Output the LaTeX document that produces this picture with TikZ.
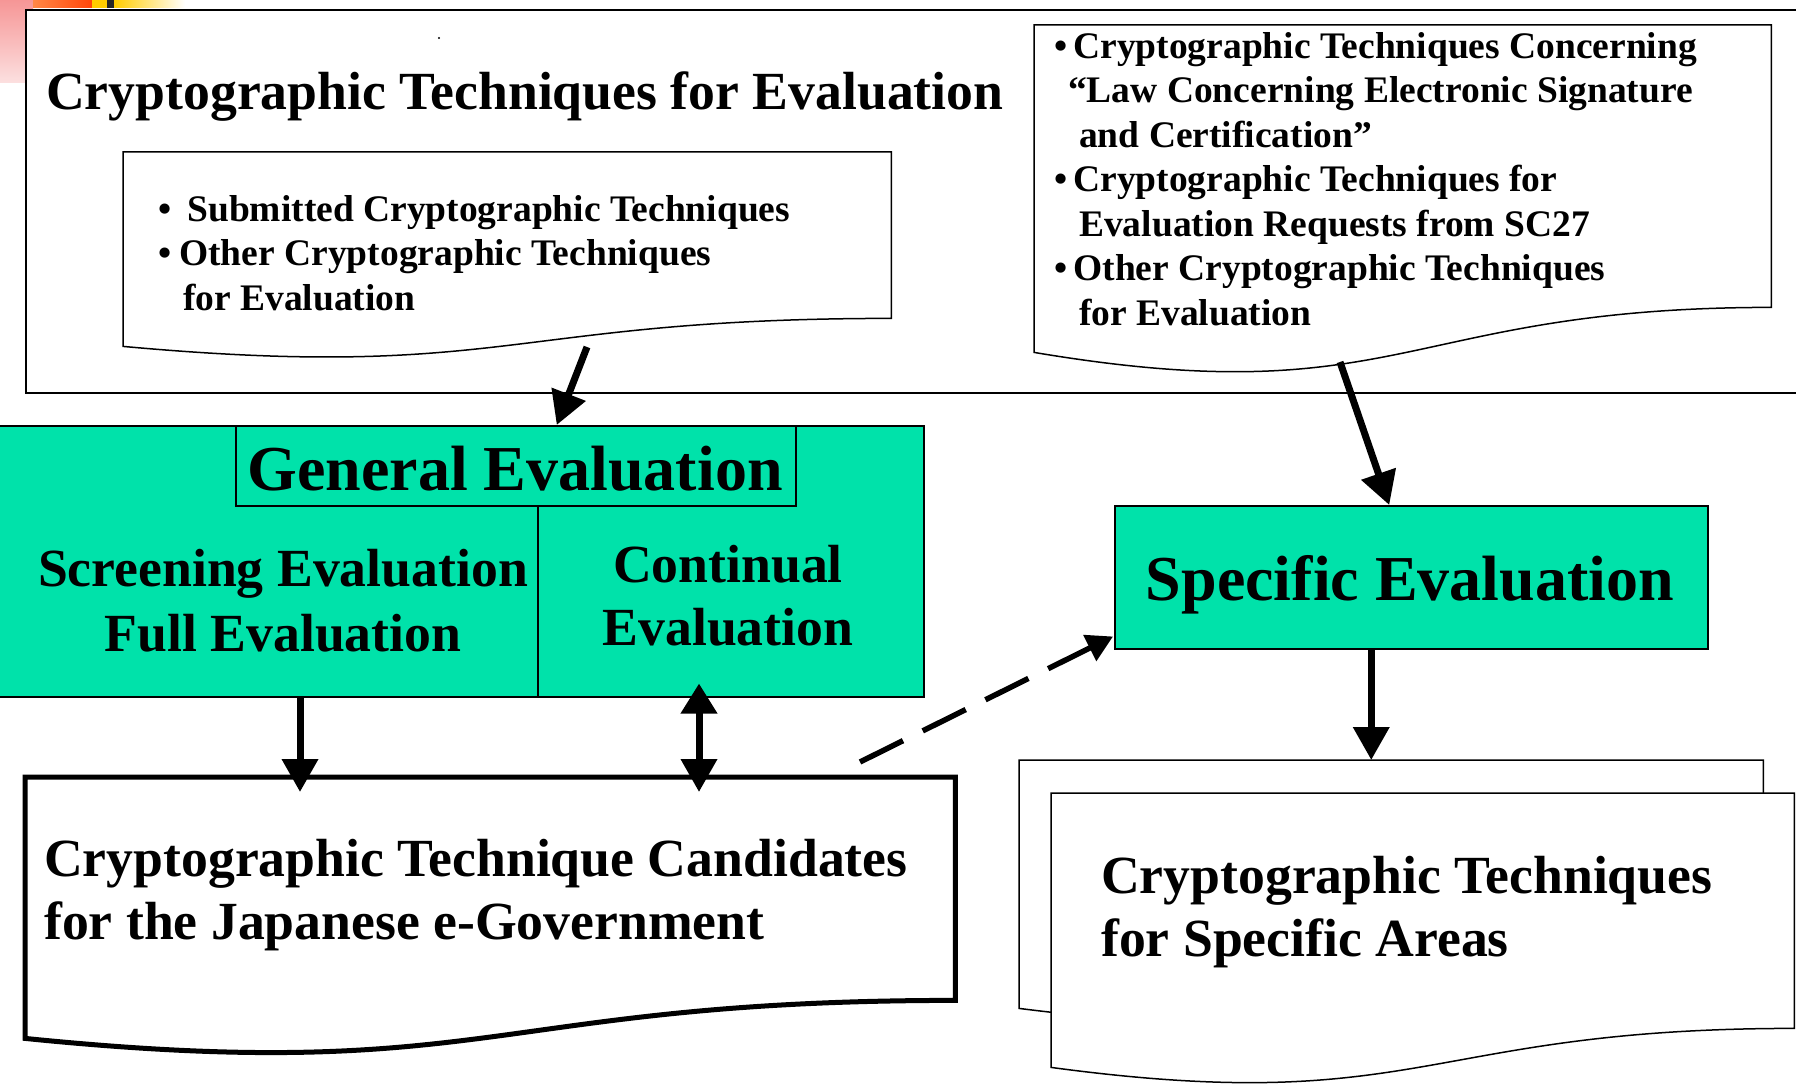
\documentclass[tikz,border=0pt]{standalone}
\usepackage{fontspec}
\setmainfont{Liberation Serif}
\usepackage{tikz}
\usetikzlibrary{arrows.meta, positioning, calc}

\definecolor{evalgreen}{RGB}{0,226,170}
\definecolor{cornerpink}{RGB}{246,150,150}
\definecolor{cornerpale}{RGB}{252,224,224}
\definecolor{striporange}{RGB}{255,135,70}
\definecolor{stripred}{RGB}{255,70,10}
\definecolor{stripyellow}{RGB}{255,204,0}

\begin{document}
\begin{tikzpicture}[x=1pt, y=-1pt,
    every node/.style={inner sep=0pt},
    box/.style={anchor=north west},
    greenbox/.style={box, draw, line width=1.5pt, fill=evalgreen},
    doc/.style={draw, line width=1.5pt, fill=white},
    listtext/.style={font=\fontsize{37.5}{44.4}\selectfont\bfseries},
    bodytext/.style={font=\fontsize{53.7}{63}\selectfont\bfseries},
    headtext/.style={font=\fontsize{64}{72}\selectfont\bfseries},
    bigarrow/.style={-{Triangle[length=33pt,width=35pt]}, line width=7pt},
    dblarrow/.style={{Triangle[length=30pt,width=35pt]}-{Triangle[length=33pt,width=35pt]}, line width=7pt},
    dasharrow/.style={-{Triangle[length=26pt,width=28pt]}, line width=5.5pt, dash pattern=on 48pt off 22pt}]
  \useasboundingbox (0,0) rectangle (1796,1091);

  % corner of the slide
  \shade[top color=cornerpink, bottom color=cornerpale] (0,0) rectangle (33,83);
  \shade[left color=striporange, right color=stripred] (33,0) rectangle (92,8);
  \fill[stripyellow] (92,0) rectangle (107,8);
  \fill[black!85] (107,0) rectangle (114,8);
  \shade[left color=stripyellow, right color=white] (114,0) rectangle (185,8);

  % techniques for evaluation
  \draw[line width=2.5pt, fill=white] (26,10) rectangle (1850,393);
  \fill (439,38) circle (1.2pt);
  \node[anchor=base west, bodytext] (title) at (46,110) {Cryptographic Techniques for Evaluation};

  \node[box, minimum width=768pt, minimum height=166pt] (submitbox) at (123,152) {};
  \draw[doc] (submitbox.north west) -- (submitbox.north east) -- (submitbox.south east)
    .. controls (submitbox.south) and ($(submitbox.south)+(0,63)$) .. ($(submitbox.south west)+(0,28)$) -- cycle;
  \node[anchor=base west, align=left, listtext] (submitted) at (158,310)
    {•\hspace{16pt}Submitted Cryptographic Techniques\\
     •\hspace{8pt}Other Cryptographic Techniques\\
     \hspace*{25pt}for Evaluation};

  \node[box, minimum width=737pt, minimum height=282pt] (requestbox) at (1034,25) {};
  \draw[doc] (requestbox.north west) -- (requestbox.north east) -- (requestbox.south east)
    .. controls (requestbox.south) and ($(requestbox.south)+(0,107)$) .. ($(requestbox.south west)+(0,45)$) -- cycle;
  \node[anchor=base west, align=left, listtext] (requested) at (1054,325)
    {•\hspace{6pt}Cryptographic Techniques Concerning\\
     \hspace*{14pt}“Law Concerning Electronic Signature\\
     \hspace*{25pt}and Certification”\\
     •\hspace{6pt}Cryptographic Techniques for\\
     \hspace*{25pt}Evaluation Requests from SC27\\
     •\hspace{6pt}Other Cryptographic Techniques\\
     \hspace*{25pt}for Evaluation};

  % general evaluation
  \node[greenbox, minimum width=940pt, minimum height=271pt] (general) at (-17,425) {};
  \node[greenbox, minimum width=560pt, minimum height=80pt] (generalhead) at (235,425) {};
  \coordinate (divide) at (538,505);
  \draw[line width=1.5pt] (divide) -- (divide |- general.south);
  \node[anchor=base, headtext] (generaltext) at (515,490) {General Evaluation};
  \node[anchor=base, align=center, font=\fontsize{53.7}{65}\selectfont\bfseries] (screening) at (283,651)
    {Screening Evaluation\\Full Evaluation};
  \node[anchor=base, align=center, bodytext] (continual) at (728,645) {Continual\\Evaluation};

  % specific evaluation
  \node[greenbox, minimum width=593pt, minimum height=143pt] (specific) at (1114,505) {};
  \node[anchor=base, headtext] (specifictext) at (1410,600) {Specific Evaluation};

  % candidates
  \node[box, minimum width=930pt, minimum height=223pt] (candbox) at (25,777) {};
  \draw[doc, line width=5pt] (candbox.north west) -- (candbox.north east) -- (candbox.south east)
    .. controls (candbox.south) and ($(candbox.south)+(0,85)$) .. ($(candbox.south west)+(0,38)$) -- cycle;
  \node[anchor=base west, align=left, bodytext] (candidates) at (44,939)
    {Cryptographic Technique Candidates\\for the Japanese e-Government};

  % specific areas
  \node[box, minimum width=744pt, minimum height=213pt] (areaback) at (1019,760) {};
  \draw[doc] (areaback.north west) -- (areaback.north east) -- (areaback.south east)
    .. controls (areaback.south) and ($(areaback.south)+(0,82)$) .. ($(areaback.south west)+(0,35)$) -- cycle;
  \node[box, minimum width=743pt, minimum height=235pt] (areabox) at (1051,793) {};
  \draw[doc] (areabox.north west) -- (areabox.north east) -- (areabox.south east)
    .. controls (areabox.south) and ($(areabox.south)+(0,89)$) .. ($(areabox.south west)+(0,39)$) -- cycle;
  \node[anchor=base west, align=left, bodytext] (areas) at (1101,956)
    {Cryptographic Techniques\\for Specific Areas};

  % arrows
  \coordinate (submitout) at (587,347);
  \draw[bigarrow] (submitout) -- ($(generalhead.north)+(41,0)$);
  \coordinate (requestout) at (1340,362);
  \draw[bigarrow] (requestout) -- ($(specific.north)+(-22,0)$);
  \coordinate (screenout) at ($(general.south west)+(317,0)$);
  \draw[bigarrow] (screenout) -- ($(screenout |- candbox.north)+(0,15)$);
  \coordinate (contout) at ($(general.south west)+(716,0)$);
  \draw[dblarrow] ($(contout)+(0,-14)$) -- ($(contout |- candbox.north)+(0,15)$);
  \coordinate (dashstart) at (860,762);
  \draw[dasharrow] (dashstart) -- ($(specific.south west)+(-1,-13)$);
  \coordinate (specout) at ($(specific.south)+(-40,0)$);
  \draw[bigarrow] (specout) -- (specout |- areaback.north);
\end{tikzpicture}
\end{document}
